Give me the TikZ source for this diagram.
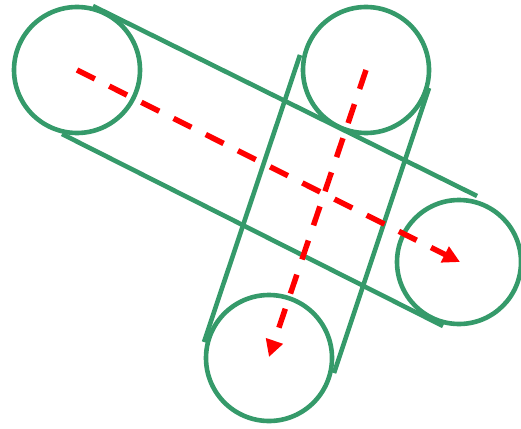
\documentclass[tikz,border=0pt]{standalone}
\usetikzlibrary{arrows.meta}
\definecolor{beltgreen}{RGB}{53,154,106}
\definecolor{arrred}{RGB}{255,0,0}
\begin{document}
\begin{tikzpicture}[x=1pt,y=-1pt,
  pulley/.style={draw=beltgreen,line width=4.6pt},
  belt/.style={draw=beltgreen,line width=4.6pt},
  axis/.style={draw=arrred,line width=5.5pt,dash pattern=on 20pt off 16pt,
    -{Triangle[length=17pt,width=17pt]}}]
\useasboundingbox (0,0) rectangle (521,428);
% pulley centres
\coordinate (c1) at (77,70);
\coordinate (c2) at (366,70);
\coordinate (c3) at (459,262);
\coordinate (c4) at (269,358);
\draw[pulley] (c1) circle[radius=63];
\draw[pulley] (c2) circle[radius=63];
\draw[pulley] (c3) circle[radius=62];
\draw[pulley] (c4) circle[radius=63];
% belt ends
\coordinate (a1) at (93,6);
\coordinate (a2) at (477,196);
\coordinate (b1) at (62,134);
\coordinate (b2) at (443,326);
\coordinate (d1) at (300,55);
\coordinate (d2) at (204,342);
\coordinate (e1) at (429,88);
\coordinate (e2) at (334,373);
\draw[belt] (a1) -- (a2);
\draw[belt] (b1) -- (b2);
\draw[belt] (d1) -- (d2);
\draw[belt] (e1) -- (e2);
% axes
\draw[axis] (c1) -- (460,262);
\draw[axis] (c2) -- (269,357);
\end{tikzpicture}
\end{document}
